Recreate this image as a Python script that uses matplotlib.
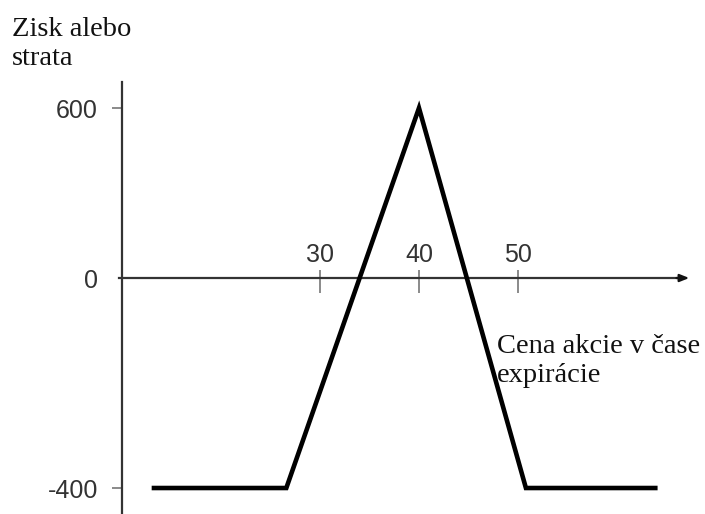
import numpy as np
import matplotlib
matplotlib.use("Agg")
import matplotlib.pyplot as plt

# Payoff of the long butterfly spread at expiration
prices = [13, 26.6, 40, 50.8, 64.1]
payoff = [-400, -400, 600, -400, -400]

x_ticks = [30, 40, 50]
x_tick_labels = ["30", "40", "50"]
y_ticks = [-400, 0, 600]
y_tick_labels = ["-400", "0", "600"]

y_label = "Zisk alebo\nstrata"
x_label = "Cena akcie v čase\nexpirácie"

# Schematic vertical axis: gains and losses use different unit lengths
UP = 170 / 600
DOWN = 210 / 400


def fwd(y):
    y = np.asarray(y, dtype=float)
    return np.where(y >= 0, y * UP, y * DOWN)


def inv(u):
    u = np.asarray(u, dtype=float)
    return np.where(u >= 0, u / UP, u / DOWN)


fig = plt.figure(figsize=(7.05, 5.14), dpi=100)
ax = fig.add_axes([0, 0, 1, 1])
ax.set_yscale("function", functions=(fwd, inv))
ax.set_xlim(-2.32, 68.89)
ax.set_ylim(-449.5, 981.2)

axis_color = "#333333"
tick_color = "#8a8a8a"
tick_font = dict(family="Liberation Sans", size=18, color="#333333")
text_font = dict(family="Liberation Serif", size=20.5, color="#111111")

# axis lines
for side in ("right", "bottom"):
    ax.spines[side].set_visible(False)
ax.spines["left"].set_position(("data", 10))
ax.spines["left"].set_bounds(-449.5, 692)
ax.spines["top"].set_position(("data", 0))
ax.spines["top"].set_bounds(9.7, 66.6)
for side in ("left", "top"):
    ax.spines[side].set_color(axis_color)
    ax.spines[side].set_linewidth(1.6)
ax.annotate("", xy=(67.3, 0), xytext=(66.0, 0),
            arrowprops=dict(arrowstyle="-|>,head_length=0.55,head_width=0.22",
                            color="#111111", lw=1.6, shrinkA=0, shrinkB=0))

# x ticks: labels above the axis, marks crossing it
ax.xaxis.set_ticks_position("top")
ax.xaxis.remove_overlapping_locs = False
ax.set_xticks(x_ticks)
ax.set_xticklabels(x_tick_labels, **tick_font)
ax.set_xticks(x_ticks, minor=True)
ax.tick_params(axis="x", which="major", direction="in", length=10.8,
               width=1.4, color=tick_color, pad=8)
ax.tick_params(axis="x", which="minor", direction="out", length=5.8,
               width=1.4, color=tick_color)

# y ticks
ax.set_yticks(y_ticks)
ax.set_yticklabels(y_tick_labels, **tick_font)
ax.yaxis.set_minor_locator(matplotlib.ticker.NullLocator())
ax.tick_params(axis="y", which="major", direction="out", length=7.2,
               width=1.4, color=tick_color, pad=10)
ax.yaxis.get_major_ticks()[1].tick1line.set_visible(False)

# payoff line
ax.plot(prices, payoff, color="black", lw=3.3,
        solid_joinstyle="miter", solid_capstyle="butt", zorder=5)

# axis titles (anchored at the baseline of their last line)
fig.text(12 / 705, 1 - 65 / 514, y_label, ha="left", va="baseline",
         linespacing=1.2, **text_font)
fig.text(497 / 705, 1 - 382 / 514, x_label, ha="left", va="baseline",
         linespacing=1.2, **text_font)

fig.savefig("out.png", dpi=100)
